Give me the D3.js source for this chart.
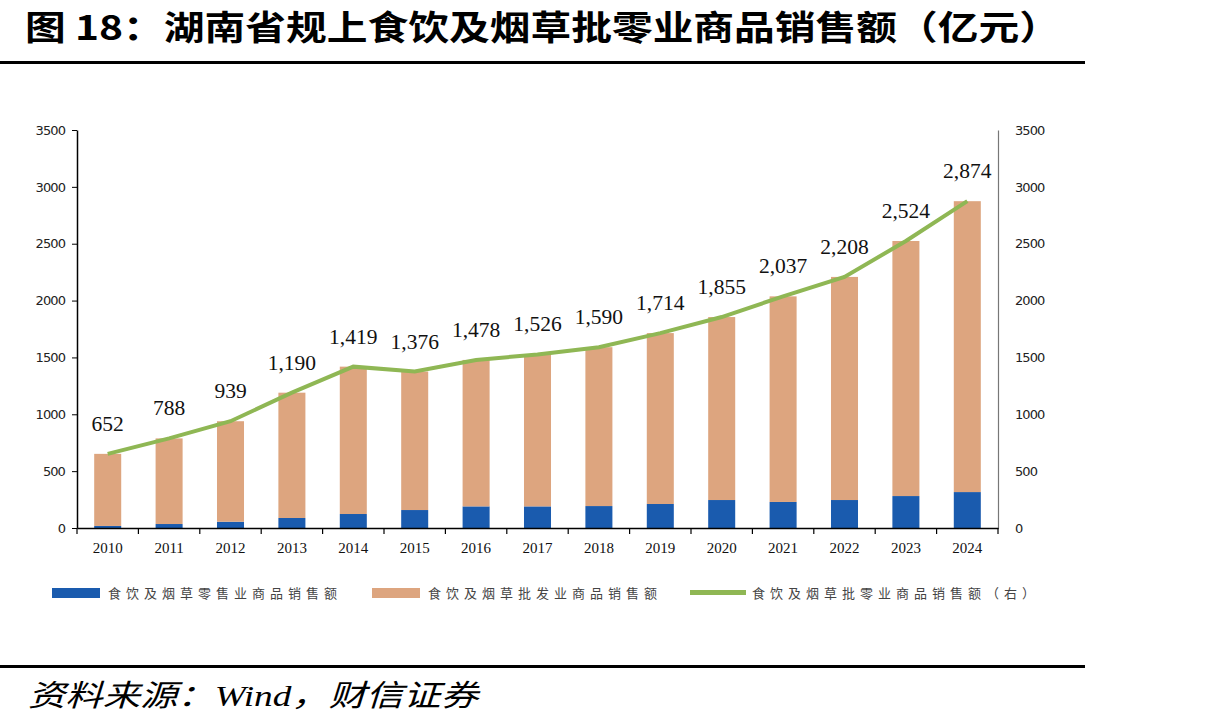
<!DOCTYPE html>
<html><head><meta charset="utf-8">
<script src="https://cdn.jsdelivr.net/npm/d3@7/dist/d3.min.js"></script>
<style>body{margin:0;background:#fff}svg{display:block}</style>
</head><body>
<svg id="c" width="1217" height="727"></svg>
<script>
const years = ["2010","2011","2012","2013","2014","2015","2016","2017","2018","2019","2020","2021","2022","2023","2024"];
const retail = [18,35,55,88,123,158,190,190,193,211,246,229,246,281,316];
const total = [652,788,939,1190,1419,1376,1478,1526,1590,1714,1855,2037,2208,2524,2874];
const wholesale = total.map((t,i)=>t-retail[i]);
const yTicks = [0,500,1000,1500,2000,2500,3000,3500];
const seriesNames = ["食饮及烟草零售业商品销售额","食饮及烟草批发业商品销售额","食饮及烟草批零业商品销售额（右）"];
const colors = {retail:"#1A5BAE", wholesale:"#DDA57F", line:"#8FB754"};

const svg = d3.select("#c");
const L=77, R=998, T=130, B=528;
const x = d3.scaleBand().domain(years).range([L,R]).paddingInner(0.56).paddingOuter(0.28);
const xb = d3.scaleBand().domain(years).range([L,R]);
const y = d3.scaleLinear().domain([0,3500]).range([B,T]);
const y2 = d3.scaleLinear().domain([0,3500]).range([B,T]);

// title
svg.append("text").attr("x",25).attr("y",40).attr("font-family","Noto Sans CJK SC").attr("font-weight",700)
  .attr("font-size",34).attr("textLength",1035).attr("lengthAdjust","spacingAndGlyphs")
  .text("图 18：湖南省规上食饮及烟草批零业商品销售额（亿元）");
svg.append("rect").attr("x",0).attr("y",61).attr("width",1085).attr("height",3).attr("fill","#000");
svg.append("rect").attr("x",0).attr("y",665).attr("width",1085).attr("height",3).attr("fill","#000");
svg.append("text").attr("x",28).attr("y",706).attr("font-family","Liberation Serif, Noto Sans CJK SC")
  .attr("font-style","italic").attr("font-size",30).attr("textLength",450).attr("lengthAdjust","spacingAndGlyphs")
  .text("资料来源：Wind，财信证券");

// bars
const g = svg.append("g");
g.selectAll(".r").data(years).join("rect").attr("x",d=>x(d)).attr("width",x.bandwidth())
  .attr("y",(d,i)=>y(retail[i])).attr("height",(d,i)=>B-y(retail[i])).attr("fill",colors.retail);
g.selectAll(".w").data(years).join("rect").attr("x",d=>x(d)).attr("width",x.bandwidth())
  .attr("y",(d,i)=>y(total[i])).attr("height",(d,i)=>y(retail[i])-y(total[i])).attr("fill",colors.wholesale);

// left axis
const ax = svg.append("g").attr("transform",`translate(${L},0)`)
  .call(d3.axisLeft(y).tickValues(yTicks).tickSize(5).tickSizeOuter(0).tickFormat(d3.format("d")));
ax.select(".domain").attr("stroke","#000").attr("stroke-width",1.5);
ax.selectAll(".tick line").attr("stroke","#000");
ax.selectAll("text").attr("font-family","DejaVu Sans").attr("font-size",13).attr("fill","#222").attr("dx",-4).attr("letter-spacing",-0.9);

// right axis
const ar = svg.append("g").attr("transform",`translate(${R},0)`)
  .call(d3.axisRight(y2).tickValues(yTicks).tickSize(0).tickSizeOuter(0).tickFormat(d3.format("d")));
ar.select(".domain").attr("stroke","#777").attr("stroke-width",1.2);
ar.selectAll("text").attr("font-family","DejaVu Sans").attr("font-size",13).attr("fill","#222").attr("dx",14).attr("letter-spacing",-0.9);

// x axis
const axb = svg.append("g").attr("transform",`translate(0,${B})`)
  .call(d3.axisBottom(xb).tickSize(0).tickSizeOuter(0));
axb.select(".domain").attr("stroke","#000").attr("stroke-width",1.5);
axb.selectAll("text").attr("font-family","Liberation Serif").attr("font-size",15).attr("fill","#111").attr("y",14).attr("dy","0.71em");
svg.append("g").selectAll("line").data(years.concat(["end"])).join("line")
  .attr("x1",(d,i)=>i<years.length?xb(d):R).attr("x2",(d,i)=>i<years.length?xb(d):R)
  .attr("y1",B).attr("y2",B+6).attr("stroke","#000").attr("stroke-width",1.2);

// line
const line = d3.line().x((d,i)=>x(years[i])+x.bandwidth()/2).y(d=>y2(d));
svg.append("path").datum(total).attr("d",line).attr("fill","none").attr("stroke",colors.line).attr("stroke-width",4);
svg.append("g").selectAll("text").data(total).join("text")
  .attr("x",(d,i)=>x(years[i])+x.bandwidth()/2).attr("y",d=>y2(d)-23)
  .attr("text-anchor","middle").attr("font-family","Liberation Serif").attr("font-size",21.5).attr("fill","#111")
  .text(d=>d3.format(",")(d));

// legend
const lg = svg.append("g");
const items = [{x:52,type:"rect",c:colors.retail},{x:372,type:"rect",c:colors.wholesale},{x:690,type:"line",c:colors.line}];
items.forEach((it,i)=>{
  if(it.type==="rect") lg.append("rect").attr("x",it.x).attr("y",588).attr("width",48).attr("height",10).attr("fill",it.c);
  else lg.append("rect").attr("x",it.x).attr("y",590).attr("width",56).attr("height",5).attr("fill",it.c);
  const tx = it.x + (it.type==="rect"?56:62);
  lg.append("text").attr("x",tx).attr("y",598).attr("font-family","Noto Sans CJK SC").attr("font-size",13)
    .attr("fill","#444").attr("letter-spacing",5).text(seriesNames[i]);
});
</script>
</body></html>
